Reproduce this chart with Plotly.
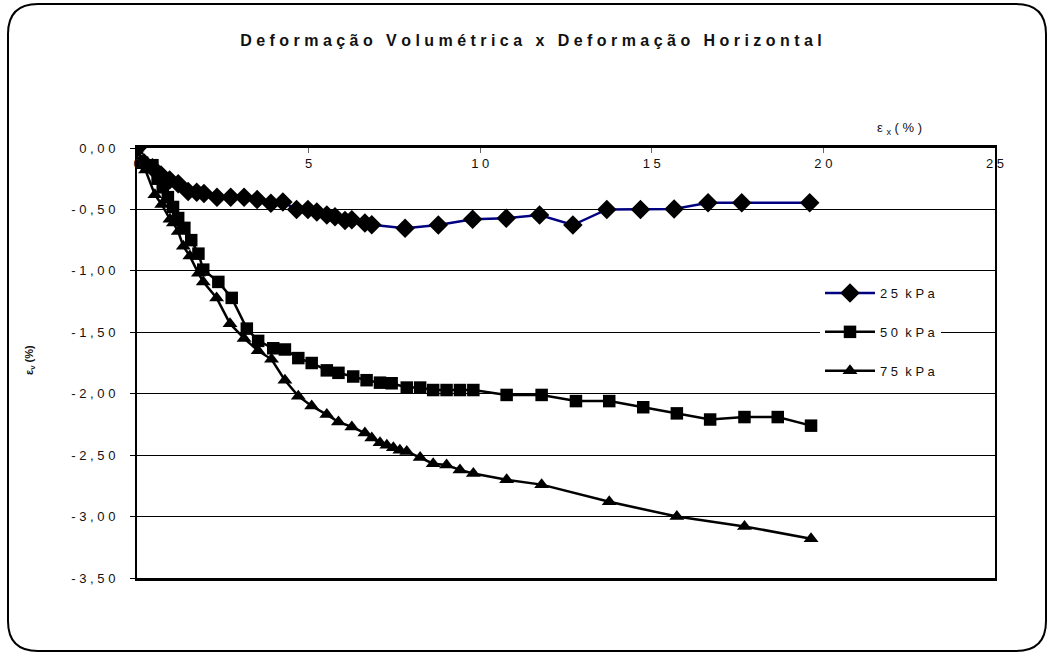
import plotly.graph_objects as go

# ---------------- data ----------------
x25 = [0.0, 0.2, 0.45, 0.7, 0.95, 1.2, 1.49, 1.74, 1.95, 2.33, 2.73, 3.12, 3.50, 3.90, 4.25, 4.65, 4.98,
       5.24, 5.53, 5.77, 6.06, 6.26, 6.64, 6.84, 7.81, 8.78, 9.78, 10.76, 11.73, 12.70, 13.69, 14.67,
       15.65, 16.64, 17.62, 19.60]
y25 = [0.0, -0.12, -0.16, -0.22, -0.26, -0.29, -0.355, -0.36, -0.37, -0.40, -0.40, -0.40, -0.42, -0.45,
       -0.44, -0.50, -0.50, -0.52, -0.545, -0.56, -0.59, -0.585, -0.61, -0.625, -0.653, -0.627, -0.58,
       -0.572, -0.545, -0.627, -0.50, -0.50, -0.496, -0.445, -0.445, -0.445]

x50 = [0.0, 0.15, 0.45, 0.6, 0.75, 0.9, 1.05, 1.2, 1.38, 1.58, 1.79, 1.93, 2.37, 2.76, 3.20, 3.53, 3.97,
       4.31, 4.70, 5.09, 5.53, 5.87, 6.30, 6.69, 7.08, 7.42, 7.86, 8.25, 8.63, 9.02, 9.41, 9.80,
       10.77, 11.79, 12.79, 13.76, 14.75, 15.73, 16.70, 17.70, 18.67, 19.64]
y50 = [0.0, -0.12, -0.14, -0.25, -0.32, -0.40, -0.48, -0.57, -0.65, -0.75, -0.86, -0.99, -1.09, -1.22,
       -1.47, -1.57, -1.63, -1.64, -1.71, -1.75, -1.81, -1.83, -1.86, -1.89, -1.91, -1.915, -1.95,
       -1.95, -1.97, -1.97, -1.97, -1.97, -2.01, -2.01, -2.06, -2.06, -2.11, -2.16, -2.21, -2.19,
       -2.19, -2.26]

x75 = [0.0, 0.25, 0.52, 0.72, 0.96, 1.06, 1.20, 1.35, 1.54, 1.79, 1.93, 2.32, 2.71, 3.12, 3.53, 3.92,
       4.31, 4.70, 5.09, 5.53, 5.87, 6.26, 6.64, 6.84, 7.08, 7.28, 7.47, 7.66, 7.86, 8.25, 8.63, 9.02,
       9.41, 9.80, 10.77, 11.79, 13.76, 15.73, 17.70, 19.64]
y75 = [0.0, -0.18, -0.38, -0.46, -0.58, -0.61, -0.68, -0.80, -0.88, -1.02, -1.09, -1.22, -1.43, -1.55,
       -1.65, -1.72, -1.89, -2.02, -2.10, -2.17, -2.23, -2.27, -2.32, -2.36, -2.40, -2.42, -2.44,
       -2.46, -2.47, -2.52, -2.57, -2.58, -2.62, -2.65, -2.70, -2.74, -2.88, -3.00, -3.08, -3.18]

series_names = ["2 5  k P a", "5 0  k P a", "7 5  k P a"]
x_ticks = [0, 5, 10, 15, 20, 25]
x_ticktext = ["0", "5", "1 0", "1 5", "2 0", "2 5"]
y_ticks = [0, -0.5, -1.0, -1.5, -2.0, -2.5, -3.0, -3.5]
y_ticktext = ["0 , 0 0", "- 0 , 5 0", "- 1 , 0 0", "- 1 , 5 0", "- 2 , 0 0", "- 2 , 5 0", "- 3 , 0 0", "- 3 , 5 0"]

title_text = "D e f o r m a ç ã o   V o l u m é t r i c a   x   D e f o r m a ç ã o   H o r i z o n t a l"

FONT = "Liberation Sans Narrow, Arial Narrow, Liberation Sans, Arial, sans-serif"

W, H = 1052, 655
L, R, T, B = 137, 995, 148, 578


def px(xp):
    return (xp - L) / (R - L)


def py(yp):
    return (B - yp) / (B - T)


fig = go.Figure()
fig.add_trace(go.Scatter(x=x25, y=y25, mode="lines+markers", name=series_names[0], legendgroup="a",
                         line=dict(color="#000080", width=2.5),
                         marker=dict(symbol="diamond", size=15, color="black")))
fig.add_trace(go.Scatter(x=x50, y=y50, mode="lines+markers", name=series_names[1], legendgroup="b",
                         line=dict(color="black", width=2.5),
                         marker=dict(symbol="square", size=12.5, color="black")))
fig.add_trace(go.Scatter(x=x75, y=y75, mode="lines+markers", name=series_names[2], legendgroup="c",
                         line=dict(color="black", width=2.5),
                         marker=dict(symbol="triangle-up", size=13, color="black")))
# invisible trace that carries the secondary x axis (tick labels drawn below the top axis line)
fig.add_trace(go.Scatter(x=[0, 25], y=[None, None], xaxis="x2", showlegend=False,
                         hoverinfo="skip", mode="markers", marker=dict(opacity=0)))

# rounded outer frame
x0, y0, x1, y1, r = 8, 4, 1046, 651, 30
path = (f"M {px(x0 + r)} {py(y0)} L {px(x1 - r)} {py(y0)} "
        f"Q {px(x1)} {py(y0)} {px(x1)} {py(y0 + r)} "
        f"L {px(x1)} {py(y1 - r)} Q {px(x1)} {py(y1)} {px(x1 - r)} {py(y1)} "
        f"L {px(x0 + r)} {py(y1)} Q {px(x0)} {py(y1)} {px(x0)} {py(y1 - r)} "
        f"L {px(x0)} {py(y0 + r)} Q {px(x0)} {py(y0)} {px(x0 + r)} {py(y0)} Z")
fig.add_shape(type="path", path=path, xref="paper", yref="paper",
              line=dict(color="black", width=2), layer="below")

fig.update_layout(
    width=W, height=H,
    margin=dict(l=L, r=W - R, t=T, b=H - B),
    paper_bgcolor="white", plot_bgcolor="white",
    font=dict(family=FONT, color="#111", size=12),
    title=dict(text=title_text, x=px(531), xref="paper", xanchor="center",
               y=1 - 40 / H, yanchor="middle",
               font=dict(family=FONT, size=16, color="#111", weight="bold")),
    showlegend=True,
    legend=dict(x=px(820), y=py(278), xanchor="left", yanchor="top",
                bgcolor="white", borderwidth=0, font=dict(size=13, family=FONT),
                itemwidth=50, tracegroupgap=19),
    xaxis=dict(range=[0, 25], side="top", tickvals=x_ticks,
               ticks="inside", ticklen=5, tickcolor="#666", showticklabels=False,
               showgrid=False, zeroline=False, showline=True, linecolor="black",
               linewidth=3, mirror=True),
    xaxis2=dict(range=[0, 25], overlaying="x", side="top", anchor="free", position=py(171),
                tickvals=x_ticks, ticktext=x_ticktext, ticks="", showline=False,
                showgrid=False, zeroline=False, tickfont=dict(size=13, family=FONT)),
    yaxis=dict(range=[-3.5, 0], tickvals=y_ticks, ticktext=y_ticktext,
               ticks="outside", ticklen=5, tickcolor="black", ticklabelstandoff=12,
               showgrid=True, gridcolor="black", gridwidth=1, zeroline=False,
               showline=True, linecolor="black", linewidth=2, mirror=True,
               tickfont=dict(size=13, family=FONT)),
)

fig.add_annotation(text="ε <sub>x</sub> ( % )", xref="paper", yref="paper",
                   x=px(924), y=py(118), showarrow=False,
                   font=dict(size=13, family=FONT))
fig.add_annotation(text="<b>ε<sub>v</sub> (%)</b>", xref="paper", yref="paper",
                   x=px(30), y=py(360), showarrow=False, textangle=-90,
                   xanchor="center", yanchor="middle",
                   font=dict(size=11, family=FONT))

fig.write_html("out.html", config={"displayModeBar": False},
               post_script="document.body.style.margin='0';")
